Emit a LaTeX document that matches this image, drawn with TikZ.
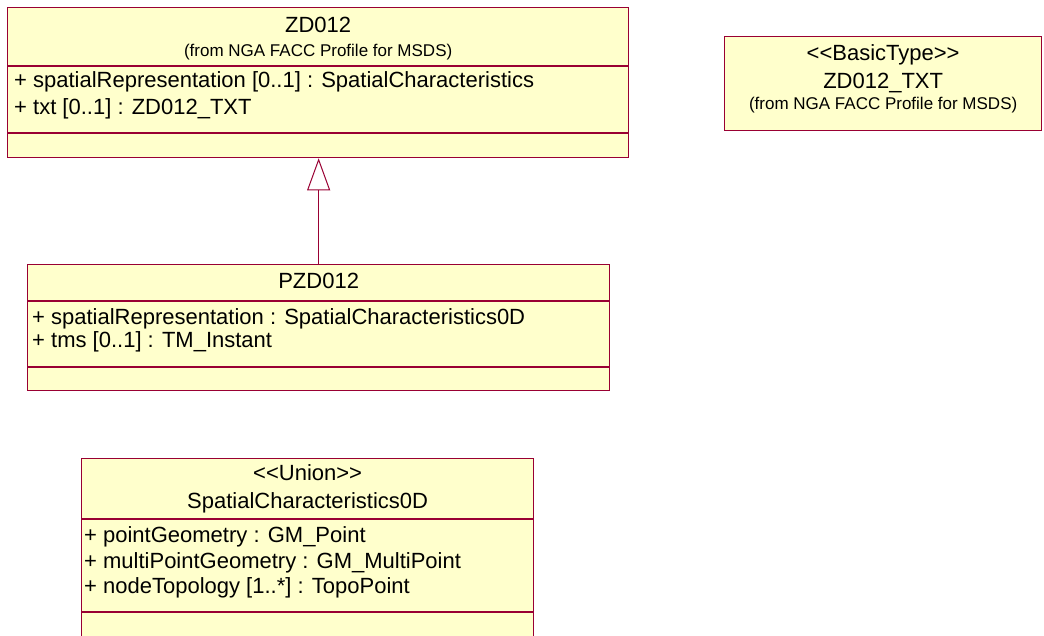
\documentclass[tikz,border=0pt]{standalone}
\usepackage{fontspec}
\setmainfont{Liberation Sans}[Ligatures=TeXOff]
\usetikzlibrary{arrows.meta}
\definecolor{umlred}{RGB}{153,0,51}
\definecolor{umlfill}{RGB}{255,255,204}

\begin{document}
\begin{tikzpicture}[x=1pt,y=-1pt,
    classbox/.style={draw=umlred,fill=umlfill,line width=1.3pt,inner sep=0pt,anchor=north west},
    big/.style={font=\fontsize{22}{26}\selectfont,inner sep=0pt,text height=16pt,text depth=5pt},
    small/.style={font=\fontsize{17}{20}\selectfont,inner sep=0pt,text height=12pt,text depth=4pt},
    attr/.style={big,anchor=west},
    sep/.style={draw=umlred,line width=1.3pt}]
        \useasboundingbox (0,0) rectangle (1044,635);
        % ZD012
        \node[classbox,minimum width=621pt,minimum height=150pt] (zd) at (7,7) {};
        \node[big] (zdname) at (zd.north |- 0,27) {ZD012};
        \node[small] (zdfrom) at (zd.north |- 0,52) {(from NGA FACC Profile for MSDS)};
        \draw[sep] (zd.west |- 0,66) -- (zd.east |- 0,66);
        \node[attr] (zda1) at (14,82) {+ spatialRepresentation [0..1] : SpatialCharacteristics};
        \node[attr] (zda2) at (14,109) {+ txt [0..1] : ZD012\_TXT};
        \draw[sep] (zd.west |- 0,133) -- (zd.east |- 0,133);
        % ZD012_TXT
        \node[classbox,minimum width=317pt,minimum height=94pt] (txt) at (724,36) {};
        \node[big] (txtstereo) at (txt.north |- 0,55) {<\kern0pt<BasicType>\kern0pt>};
        \node[big] (txtname) at (txt.north |- 0,83) {ZD012\_TXT};
        \node[small] (txtfrom) at (txt.north |- 0,105) {(from NGA FACC Profile for MSDS)};
        % PZD012
        \node[classbox,minimum width=582pt,minimum height=126pt] (pzd) at (27,264) {};
        \node[big] (pzdname) at (pzd.north |- 0,283) {PZD012};
        \draw[sep] (pzd.west |- 0,301) -- (pzd.east |- 0,301);
        \node[attr] (pzda1) at (32,319) {+ spatialRepresentation : SpatialCharacteristics0D};
        \node[attr] (pzda2) at (32,342) {+ tms [0..1] : TM\_Instant};
        \draw[sep] (pzd.west |- 0,367) -- (pzd.east |- 0,367);
        % SpatialCharacteristics0D
        \node[classbox,minimum width=452pt,minimum height=190pt] (sc) at (81,458) {};
        \node[big] (scstereo) at (sc.north |- 0,475) {<\kern0pt<Union>\kern0pt>};
        \node[big] (scname) at (sc.north |- 0,503) {SpatialCharacteristics0D};
        \draw[sep] (sc.west |- 0,519) -- (sc.east |- 0,519);
        \node[attr] (sca1) at (84,537) {+ pointGeometry : GM\_Point};
        \node[attr] (sca2) at (84,563) {+ multiPointGeometry : GM\_MultiPoint};
        \node[attr] (sca3) at (84,588) {+ nodeTopology [1..*] : TopoPoint};
        \draw[sep] (sc.west |- 0,612) -- (sc.east |- 0,612);
        % generalization
        \draw[draw=umlred,line width=1pt,-{Triangle[open,length=32pt,width=23pt]}] (pzd.north) -- (pzd.north |- zd.south);
      \end{tikzpicture}
\end{document}
